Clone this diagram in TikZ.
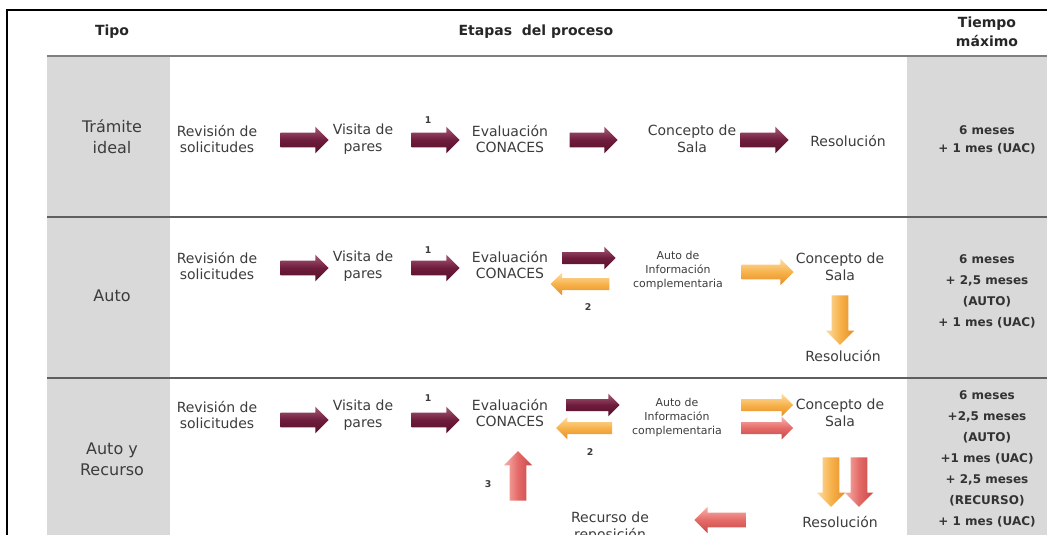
\documentclass[tikz,border=0pt]{standalone}
\usepackage{fontspec}
\setmainfont{DejaVu Sans}
\usetikzlibrary{shapes.arrows}

\definecolor{txt}{RGB}{60,60,60}
\definecolor{cell}{RGB}{217,217,217}
\definecolor{rule}{RGB}{95,95,95}
\definecolor{marD}{RGB}{88,14,44}
\definecolor{marM}{RGB}{110,28,60}
\definecolor{marL}{RGB}{165,90,118}
\definecolor{oraD}{RGB}{230,140,38}
\definecolor{oraM}{RGB}{247,178,75}
\definecolor{oraL}{RGB}{253,222,165}
\definecolor{redD}{RGB}{200,72,72}
\definecolor{redM}{RGB}{228,106,104}
\definecolor{redL}{RGB}{248,180,172}

\begin{document}
\begin{tikzpicture}[x=0.75pt,y=0.75pt,yscale=-1,xscale=1,
  blk/.style={single arrow, draw=none, inner sep=5.25pt, minimum height=36pt,
    minimum width=19.5pt, single arrow head extend=4.5pt},
  thin/.style={inner sep=4.3pt, minimum width=16.6pt, single arrow head extend=4pt},
  harr/.style={blk, top color=#1L, bottom color=#1D, middle color=#1M},
  varr/.style={blk, inner sep=6pt, minimum height=37pt, minimum width=21pt,
    left color=#1L, right color=#1D, middle color=#1M},
  lbl/.style={align=center, text=txt, font=\fontsize{10.5}{12.5}\selectfont},
  sml/.style={align=center, text=txt, font=\fontsize{8.2}{10.5}\selectfont},
  num/.style={text=txt, font=\fontsize{7}{8}\selectfont\bfseries},
  hdr/.style={align=center, text=black!85, font=\fontsize{10.5}{14}\selectfont\bfseries},
  tipo/.style={align=center, text=txt, font=\fontsize{12}{16}\selectfont},
  tiempo/.style={align=center, text=black!80, font=\fontsize{9}{15.8}\selectfont\bfseries}]
\useasboundingbox (0,0) rectangle (1047,535);
\clip (0,0) rectangle (1047,535);

% table
\fill[cell] (47,57) rectangle (170,535);
\fill[cell] (907,57) rectangle (1047,535);
\draw[line width=1.5pt] (7,535) -- (7,10) -- (1047,10);
\draw[rule!80, line width=2pt] (47,56) -- (1047,56);
\draw[rule, line width=1.3pt] (47,217) -- (1047,217);
\draw[rule, line width=1.3pt] (47,378) -- (1047,378);

\draw (112,32) node[hdr] (tipo) {Tipo};
\draw (536,32) node[hdr] (etapas) {Etapas\ \ del proceso};
\draw (987,32) node[hdr] (tiempo) {Tiempo\\máximo};

% Tramite ideal
\draw (112,137) node[tipo] (t1) {Trámite\\ideal};
\draw (217,139) node[lbl] (rev1) {Revisión de\\solicitudes};
\draw (363,139) node[lbl] (vis1) {Visita de\\pares};
\draw (510,139) node[lbl] (eva1) {Evaluación\\CONACES};
\draw (692,139) node[lbl] (con1) {Concepto de\\Sala};
\draw (848,141) node[lbl] (res1) {Resolución};
\draw (428,120) node[num] (n11) {1};
\draw (301,140) node[harr=mar] (a11) {};
\draw (432,140) node[harr=mar] (a12) {};
\draw (590,140) node[harr=mar] (a13) {};
\draw (761,140) node[harr=mar] (a14) {};
\draw (987,140) node[tiempo, font=\fontsize{9}{13}\selectfont\bfseries] (m1) {6 meses\\+ 1 mes (UAC)};

% Auto
\draw (112,296) node[tipo] (t2) {Auto};
\draw (217,266) node[lbl] (rev2) {Revisión de\\solicitudes};
\draw (363,266) node[lbl] (vis2) {Visita de\\pares};
\draw (510,265) node[lbl] (eva2) {Evaluación\\CONACES};
\draw (428,250) node[num] (n21) {1};
\draw (301,268) node[harr=mar] (a21) {};
\draw (432,268) node[harr=mar] (a22) {};
\draw (586,258) node[harr=mar, thin, minimum height=40pt] (a23) {};
\draw (583,284) node[harr=ora, thin, minimum height=44pt, shape border rotate=180] (a24) {};
\draw (588,307) node[num] (n22) {2};
\draw (678,270) node[sml] (inf2) {Auto de\\Información\\complementaria};
\draw (764,272) node[harr=ora, minimum height=39pt] (a25) {};
\draw (840,267) node[lbl] (con2) {Concepto de\\Sala};
\draw (840,316) node[varr=ora, shape border rotate=270] (a26) {};
\draw (843,356) node[lbl] (res2) {Resolución};
\draw (987,291) node[tiempo] (m2) {6 meses\\+ 2,5 meses\\(AUTO)\\+ 1 mes (UAC)};

% Auto y Recurso
\draw (112,459) node[tipo] (t3) {Auto y\\Recurso};
\draw (217,415) node[lbl] (rev3) {Revisión de\\solicitudes};
\draw (363,415) node[lbl] (vis3) {Visita de\\pares};
\draw (510,413) node[lbl] (eva3) {Evaluación\\CONACES};
\draw (428,398) node[num] (n31) {1};
\draw (301,420) node[harr=mar] (a31) {};
\draw (432,420) node[harr=mar] (a32) {};
\draw (590,405) node[harr=mar, thin, minimum height=40pt] (a33) {};
\draw (587,428) node[harr=ora, thin, minimum height=42pt, shape border rotate=180] (a34) {};
\draw (590,452) node[num] (n32) {2};
\draw (677,417) node[sml] (inf3) {Auto de\\Información\\complementaria};
\draw (764,405) node[harr=ora, thin, minimum height=39pt] (a35) {};
\draw (764,428) node[harr=red, thin, minimum height=39pt] (a36) {};
\draw (840,413) node[lbl] (con3) {Concepto de\\Sala};
\draw (831,478) node[varr=ora, shape border rotate=270] (a37) {};
\draw (859,478) node[varr=red, shape border rotate=270] (a38) {};
\draw (840,522) node[lbl] (res3) {Resolución};
\draw (724,520) node[harr=red, minimum height=39pt, shape border rotate=180] (a39) {};
\draw (610,527) node[lbl] (rec3) {Recurso de\\reposición};
\draw (518,480) node[varr=red, shape border rotate=90] (a310) {};
\draw (488,484) node[num] (n33) {3};
\draw (987,459) node[tiempo] (m3) {6 meses\\+2,5 meses\\(AUTO)\\+1 mes (UAC)\\+ 2,5 meses\\(RECURSO)\\+ 1 mes (UAC)};
\end{tikzpicture}
\end{document}
